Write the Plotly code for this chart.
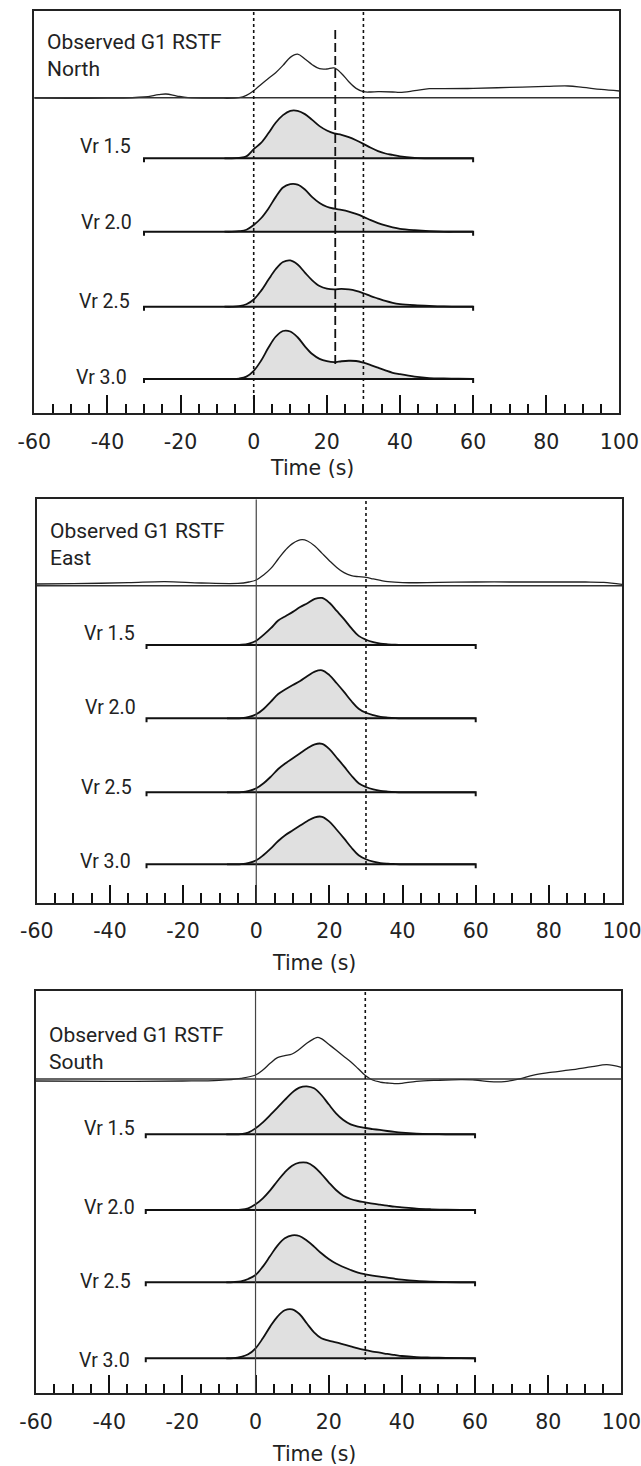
import plotly.graph_objects as go

# ---------------- data ----------------
TICK_VALUES = [-60, -40, -20, 0, 20, 40, 60, 80, 100]
TICK_LABELS = ["-60", "-40", "-20", "0", "20", "40", "60", "80", "100"]
VR_LABELS = ["Vr 1.5", "Vr 2.0", "Vr 2.5", "Vr 3.0"]
COMPONENTS = ["North", "East", "South"]
AXIS_TITLE = "Time (s)"
OBS_TITLE = "Observed G1 RSTF"

# reference times (s)
T_ZERO = 0
T_END = 30
T_DASH_NORTH = 22.3
BASELINE_SPAN = [-30, 60]

# common time grid of the modelled RSTFs (s)
T_VR = [-8, -6, -4, -2, 0, 2, 4, 6, 8, 10, 12, 14, 16, 18, 20, 22, 24, 26, 28, 30,
        32, 34, 36, 38, 40, 44, 48, 52, 56, 60]

NORTH_VR15 = [0, 0, 0.01, 0.04, 0.19, 0.32, 0.52, 0.74, 0.90, 0.99, 0.99, 0.92, 0.80, 0.67, 0.58,
              0.52, 0.49, 0.44, 0.375, 0.30, 0.22, 0.15, 0.10, 0.07, 0.04, 0.01, 0, 0, 0, 0]
NORTH_VR20 = [0, 0, 0.01, 0.04, 0.14, 0.28, 0.48, 0.72, 0.92, 0.99, 0.98, 0.88, 0.72, 0.60, 0.52,
              0.48, 0.455, 0.42, 0.37, 0.31, 0.24, 0.18, 0.13, 0.09, 0.06, 0.03, 0.01, 0, 0, 0]
NORTH_VR25 = [0, 0, 0.01, 0.05, 0.15, 0.33, 0.56, 0.78, 0.93, 0.965, 0.88, 0.71, 0.55, 0.43, 0.375,
              0.36, 0.37, 0.36, 0.33, 0.28, 0.22, 0.17, 0.12, 0.08, 0.055, 0.03, 0.015, 0.005, 0, 0]
NORTH_VR30 = [0, 0, 0.01, 0.05, 0.17, 0.38, 0.65, 0.88, 1.0, 0.99, 0.87, 0.68, 0.52, 0.42, 0.37,
              0.35, 0.37, 0.38, 0.375, 0.34, 0.29, 0.235, 0.18, 0.13, 0.10, 0.05, 0.02, 0.01, 0.005, 0]

EAST_VR15 = [0, 0, 0.005, 0.03, 0.09, 0.21, 0.35, 0.51, 0.60, 0.69, 0.79, 0.87, 0.96, 0.98, 0.88,
             0.71, 0.54, 0.35, 0.19, 0.11, 0.06, 0.03, 0.015, 0.005, 0, 0, 0, 0, 0, 0]
EAST_VR20 = [0, 0, 0.005, 0.03, 0.083, 0.194, 0.348, 0.506, 0.604, 0.694, 0.777, 0.881, 0.973, 1.0, 0.90,
             0.73, 0.55, 0.36, 0.20, 0.115, 0.065, 0.03, 0.015, 0.005, 0, 0, 0, 0, 0, 0]
EAST_VR25 = [0, 0, 0.005, 0.03, 0.083, 0.1875, 0.327, 0.485, 0.604, 0.708, 0.8125, 0.917, 1.0, 1.01, 0.90,
             0.72, 0.54, 0.35, 0.19, 0.11, 0.06, 0.03, 0.015, 0.005, 0, 0, 0, 0, 0, 0]
EAST_VR30 = [0, 0, 0.005, 0.03, 0.083, 0.194, 0.333, 0.485, 0.61, 0.708, 0.806, 0.902, 0.979, 0.99, 0.89,
             0.72, 0.54, 0.35, 0.19, 0.105, 0.055, 0.025, 0.012, 0.005, 0, 0, 0, 0, 0, 0]

SOUTH_VR15 = [0, 0, 0.005, 0.035, 0.125, 0.25, 0.40, 0.556, 0.715, 0.869, 0.973, 1.0, 0.958, 0.819, 0.625,
              0.4375, 0.298, 0.208, 0.16, 0.131, 0.11, 0.09, 0.069, 0.05, 0.035, 0.015, 0.005, 0, 0, 0]
SOUTH_VR20 = [0, 0, 0.005, 0.035, 0.119, 0.244, 0.41, 0.604, 0.785, 0.923, 0.985, 0.985, 0.902, 0.75, 0.577,
              0.417, 0.298, 0.229, 0.1875, 0.16, 0.131, 0.11, 0.09, 0.07, 0.056, 0.03, 0.015, 0.005, 0, 0]
SOUTH_VR25 = [0, 0.005, 0.02, 0.069, 0.152, 0.327, 0.548, 0.765, 0.917, 0.979, 0.965, 0.869, 0.744, 0.604, 0.485,
              0.39, 0.319, 0.256, 0.202, 0.167, 0.14, 0.117, 0.098, 0.075, 0.056, 0.03, 0.015, 0.005, 0, 0]
SOUTH_VR30 = [0, 0.005, 0.03, 0.083, 0.208, 0.417, 0.66, 0.869, 1.0, 1.02, 0.923, 0.729, 0.542, 0.417, 0.369,
              0.333, 0.292, 0.25, 0.208, 0.173, 0.14, 0.117, 0.09, 0.07, 0.048, 0.025, 0.015, 0.008, 0.003, 0]

# observed relative source time functions
NORTH_OBS_T = [-60, -40, -30, -26, -24, -21, -18, -10, -4, -2, 0, 2, 4, 6, 8, 10, 12, 14, 16, 18, 20,
               22, 24, 26, 28, 30, 32, 34, 38, 40, 44, 48, 52, 60, 70, 80, 86, 90, 95, 100]
NORTH_OBS = [-0.01, -0.01, 0.015, 0.063, 0.077, 0.035, 0, -0.01, 0, 0.048, 0.146, 0.277, 0.402, 0.521,
             0.673, 0.84, 0.906, 0.806, 0.688, 0.604, 0.598, 0.619, 0.506, 0.333, 0.194, 0.125, 0.119,
             0.125, 0.119, 0.11, 0.146, 0.188, 0.188, 0.194, 0.215, 0.235, 0.244, 0.215, 0.173, 0.14]

EAST_OBS_T = [-60, -50, -35, -25, -15, -5, -2, 0, 2, 4, 6, 8, 10, 12.5, 14, 16, 18, 20, 22, 24, 26, 28,
              30, 32, 34, 36, 40, 50, 60, 70, 80, 90, 95, 100]
EAST_OBS = [0.035, 0.042, 0.063, 0.083, 0.056, 0.048, 0.077, 0.119, 0.223, 0.36, 0.556, 0.744, 0.881,
            0.958, 0.931, 0.827, 0.673, 0.521, 0.381, 0.271, 0.208, 0.188, 0.173, 0.14, 0.11, 0.083,
            0.063, 0.069, 0.077, 0.077, 0.077, 0.077, 0.069, 0.027]

SOUTH_OBS_T = [-60, -40, -20, -10, -4, 0, 2, 4, 6, 8, 10, 12, 14, 16, 17, 18, 20, 22, 24, 26, 28, 30,
               32, 34, 36, 38, 40, 44, 50, 56, 60, 64, 68, 72, 76, 80, 86, 92, 96, 100]
SOUTH_OBS = [-0.042, -0.048, -0.042, -0.027, 0.015, 0.083, 0.188, 0.327, 0.444, 0.485, 0.521, 0.619,
             0.744, 0.84, 0.869, 0.84, 0.723, 0.604, 0.479, 0.36, 0.219, 0.073, -0.021, -0.063, -0.083,
             -0.098, -0.09, -0.048, -0.027, -0.015, -0.021, -0.056, -0.056, 0, 0.083, 0.131, 0.188,
             0.256, 0.298, 0.244]

# ---------------- layout geometry (page pixels) ----------------
FIG_W, FIG_H = 641, 1466
AMP_PX = 48

PANELS = [
    dict(obs_t=NORTH_OBS_T, obs=NORTH_OBS, vr=[NORTH_VR15, NORTH_VR20, NORTH_VR25, NORTH_VR30],
         left=34.3, right=619.4, top=10.5, bottom=413.0, obs_base=97.7,
         vr_base=[158.3, 231.7, 306.7, 379.0],
         lab_y=[146.0, 222.2, 301.8, 377.5], lab_x=[132.9, 134.1, 131.6, 129.2],
         obs_lab=(45.0, 55.9), title_y=468.0,
         vlines=[(T_ZERO, "dot", 12, 402), (T_END, "dot", 12, 402), (T_DASH_NORTH, "dash", 30, 367)]),
    dict(obs_t=EAST_OBS_T, obs=EAST_OBS, vr=[EAST_VR15, EAST_VR20, EAST_VR25, EAST_VR30],
         left=36.8, right=622.0, top=499.3, bottom=902.7, obs_base=585.7,
         vr_base=[645.0, 718.3, 792.3, 864.3],
         lab_y=[633.3, 707.5, 787.5, 861.5], lab_x=[137.0, 138.2, 134.0, 132.9],
         obs_lab=(48.2, 544.0), title_y=963.0,
         vlines=[(T_ZERO, "solid", 499.3, 902.7), (T_END, "dot", 501, 870)]),
    dict(obs_t=SOUTH_OBS_T, obs=SOUTH_OBS, vr=[SOUTH_VR15, SOUTH_VR20, SOUTH_VR25, SOUTH_VR30],
         left=36.0, right=621.4, top=990.7, bottom=1393.3, obs_base=1079.0,
         vr_base=[1134.3, 1210.0, 1282.3, 1358.3],
         lab_y=[1128.3, 1207.2, 1281.5, 1360.5], lab_x=[137.0, 137.0, 133.3, 131.6],
         obs_lab=(47.0, 1048.3), title_y=1454.0,
         vlines=[(T_ZERO, "solid", 990.7, 1393.3), (T_END, "dot", 992, 1360)]),
]

TEXT_FONT = "Roboto, 'Liberation Sans', sans-serif"
AXIS_FONT = "'DejaVu Sans', 'Liberation Sans', sans-serif"

fig = go.Figure()
shapes = []
annotations = []

for i, p in enumerate(PANELS):
    k = "" if i == 0 else str(i + 1)
    xa, ya = "x" + k, "y" + k
    H = p["bottom"] - p["top"]

    def yd(px, p=p):
        return p["bottom"] - px

    # axes
    fig.layout["xaxis" + k] = dict(
        domain=[p["left"] / FIG_W, p["right"] / FIG_W], range=[-60, 100], anchor=ya,
        automargin=False, ticklabeloverflow="allow",
        showline=True, mirror=True, linecolor="#222", linewidth=2,
        ticks="inside", ticklen=18, tickwidth=1.5, tickcolor="#111",
        tickvals=TICK_VALUES, ticktext=TICK_LABELS, ticklabelstandoff=9,
        tickfont=dict(family=AXIS_FONT, size=20.5, color="#222"),
        minor=dict(dtick=5, ticks="inside", ticklen=9.5, tickwidth=1.5, tickcolor="#111", showgrid=False),
        showgrid=False, zeroline=False, fixedrange=True)
    fig.layout["yaxis" + k] = dict(
        domain=[1 - p["bottom"] / FIG_H, 1 - p["top"] / FIG_H], range=[0, H], anchor=xa,
        automargin=False,
        showline=True, mirror=True, linecolor="#222", linewidth=2,
        ticks="", showticklabels=False, showgrid=False, zeroline=False, fixedrange=True)

    # observed trace and its baseline
    ob = yd(p["obs_base"])
    shapes.append(dict(type="line", xref=xa + " domain", yref=ya, x0=0, x1=1, y0=ob, y1=ob,
                       line=dict(color="#333", width=1.5), layer="above"))
    fig.add_trace(go.Scatter(x=p["obs_t"], y=[ob + a * AMP_PX for a in p["obs"]], xaxis=xa, yaxis=ya,
                             mode="lines", line=dict(color="#222", width=1.3, shape="spline"),
                             showlegend=False, hoverinfo="skip"))

    # modelled RSTFs
    for j, amp in enumerate(p["vr"]):
        b = yd(p["vr_base"][j])
        fig.add_trace(go.Scatter(x=T_VR, y=[b] * len(T_VR), xaxis=xa, yaxis=ya, mode="lines",
                                 line=dict(width=0, color="rgba(0,0,0,0)"), showlegend=False,
                                 hoverinfo="skip"))
        fig.add_trace(go.Scatter(x=T_VR, y=[b + a * AMP_PX for a in amp], xaxis=xa, yaxis=ya,
                                 mode="lines", fill="tonexty", fillcolor="#e0e0e0",
                                 line=dict(color="#111", width=1.8, shape="spline"),
                                 showlegend=False, hoverinfo="skip"))
        fig.add_trace(go.Scatter(x=[BASELINE_SPAN[0], BASELINE_SPAN[0], BASELINE_SPAN[1], BASELINE_SPAN[1]],
                                 y=[b - 4, b, b, b - 4], xaxis=xa, yaxis=ya, mode="lines",
                                 line=dict(color="#111", width=2), showlegend=False, hoverinfo="skip"))
        annotations.append(dict(text=VR_LABELS[j], xref="paper", yref="paper",
                                x=p["lab_x"][j] / FIG_W, y=1 - p["lab_y"][j] / FIG_H,
                                xanchor="right", yanchor="middle", showarrow=False,
                                font=dict(family=TEXT_FONT, size=19.5, color="#222")))

    # vertical reference lines
    for (t, style, y0, y1) in p["vlines"]:
        if style == "solid":
            ln = dict(color="#444", width=1.2)
        elif style == "dot":
            ln = dict(color="#111", width=1.6, dash="3px,3px")
        else:
            ln = dict(color="#111", width=1.8, dash="9px,4px")
        shapes.append(dict(type="line", xref=xa, yref=ya, x0=t, x1=t, y0=yd(y0), y1=yd(y1),
                           line=ln, layer="above"))

    # panel texts
    annotations.append(dict(text=OBS_TITLE + "<br>" + COMPONENTS[i], xref="paper", yref="paper",
                            x=p["obs_lab"][0] / FIG_W, y=1 - p["obs_lab"][1] / FIG_H,
                            xanchor="left", yanchor="middle", align="left", showarrow=False,
                            font=dict(family=TEXT_FONT, size=21, color="#222")))
    annotations.append(dict(text=AXIS_TITLE, xref="paper", yref="paper",
                            x=((p["left"] + p["right"]) / 2 - 15) / FIG_W, y=1 - p["title_y"] / FIG_H,
                            xanchor="center", yanchor="middle", showarrow=False,
                            font=dict(family=AXIS_FONT, size=20.5, color="#222")))

fig.update_layout(width=FIG_W, height=FIG_H, margin=dict(l=0, r=0, t=0, b=0, autoexpand=False),
                  paper_bgcolor="white", plot_bgcolor="white",
                  shapes=shapes, annotations=annotations, showlegend=False)

fig.write_html("out.html")
